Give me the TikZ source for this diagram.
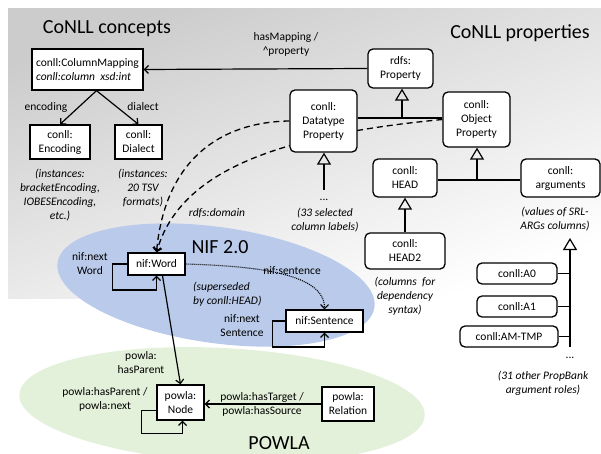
\documentclass[tikz,border=0pt]{standalone}
\usepackage{fontspec}
\setmainfont{Carlito}
\usetikzlibrary{arrows.meta}
\pgfdeclarelayer{back}
\pgfdeclarelayer{mid}
\pgfsetlayers{back,mid,main}
\definecolor{nifblue}{HTML}{B9CAEA}
\definecolor{powlagreen}{HTML}{E3F1DA}
\tikzstyle{cnode}=[draw, fill=white, line width=1.3pt, align=center, inner sep=0pt]
\tikzstyle{pnode}=[cnode, rounded corners=5pt]
\tikzstyle{lbl}=[align=center, inner sep=0pt]
\tikzstyle{note}=[lbl, font=\fontsize{11.5}{14}\selectfont\itshape]
\tikzstyle{title}=[anchor=base, inner sep=0pt, font=\fontsize{20}{24}\selectfont]
\tikzstyle{link}=[-{Straight Barb[length=4pt,width=8pt]}, line width=1.2pt]
\tikzstyle{isa}=[-{Triangle[open,length=12pt,width=14pt]}, line width=1.2pt]
\tikzstyle{domlink}=[link, dash pattern=on 6pt off 4pt, line width=1.3pt]
\tikzstyle{senlink}=[link, dash pattern=on 1pt off 1pt, line width=1.1pt]
\newcommand{\cnode}{\node[cnode]}
\newcommand{\pnode}{\node[pnode]}

\begin{document}
\begin{tikzpicture}[x=1pt, y=-1pt, every edge/.style={draw, line width=1.2pt}, font=\fontsize{11.5}{14}\selectfont]
\useasboundingbox (0,0) rectangle (601,454);
\begin{pgfonlayer}{back}
\shade[top color=black!20, bottom color=white, shading angle=20] (8,9) rectangle (601,298);
\fill[nifblue] (216,285) ellipse [x radius=160pt, y radius=58pt, rotate=-8];
\fill[powlagreen] (222,405) ellipse [x radius=203pt, y radius=57pt, rotate=-3];
\end{pgfonlayer}

\node[title] (tconc) at (107,34) {CoNLL concepts};
\node[title] (tprop) at (520,39) {CoNLL properties};
\node[title] (tnif) at (220,253) {NIF 2.0};
\node[title] (tpowla) at (279,449) {POWLA};

\cnode (map) at (87.5,69.5) [minimum width=111pt, minimum height=41pt, align=left] {conll:ColumnMapping\\\textit{conll:column\ \ xsd:int}};
\cnode (enc) at (60,142) [minimum width=60pt, minimum height=34pt] {conll:\\Encoding};
\cnode (dia) at (138.5,142) [minimum width=47pt, minimum height=34pt] {conll:\\Dialect};
\pnode (rprop) at (400.5,68.5) [minimum width=65pt, minimum height=39pt] {rdfs:\\Property};
\pnode (dprop) at (323.5,121) [minimum width=67pt, minimum height=62pt] {conll:\\Datatype\\Property};
\pnode (oprop) at (476.5,119.5) [minimum width=67pt, minimum height=55pt] {conll:\\Object\\Property};
\pnode (head) at (405,178) [minimum width=64pt, minimum height=38pt] {conll:\\HEAD};
\pnode (args) at (560.5,178) [minimum width=79pt, minimum height=38pt] {conll:\\arguments};
\pnode (head2) at (405,251) [minimum width=80pt, minimum height=36pt] {conll:\\HEAD2};
\pnode (a0) at (517,273.5) [minimum width=80pt, minimum height=21pt] {conll:A0};
\pnode (a1) at (517,306.5) [minimum width=80pt, minimum height=21pt] {conll:A1};
\pnode (amtmp) at (509,336.5) [minimum width=98pt, minimum height=21pt] {conll:AM-TMP};
\cnode (word) at (156.5,264) [minimum width=57pt, minimum height=22pt] {nif:Word};
\cnode (sent) at (324.5,321) [minimum width=77pt, minimum height=22pt] {nif:Sentence};
\cnode (pnode) at (180.5,402.5) [minimum width=47pt, minimum height=35pt] {powla:\\Node};
\cnode (rel) at (348,404) [minimum width=52pt, minimum height=34pt] {powla:\\Relation};

\coordinate (dj) at (402,118);
\coordinate (oj) at (477,180);
\coordinate (dots) at (324,190);
\coordinate (argtop) at (570,238);
\coordinate (argbot) at (570,347);

\node[lbl] (lenc) at (46,107) {encoding};
\node[lbl] (ldia) at (143,107) {dialect};
\node[lbl] (lmap) at (286,44) {hasMapping /\\\textasciicircum property};
\node[note] (nenc) at (60,195) {(instances:\\bracketEncoding,\\IOBESEncoding,\\etc.)};
\node[note] (ndia) at (143,188) {(instances:\\20 TSV\\formats)};
\node[note] (ldom) at (217,213) {rdfs:domain};
\node[lbl] (ddots) at (324,200) {...};
\node[note] (ndprop) at (325,220) {(33 selected\\column labels)};
\node[note] (nhead2) at (405,296) {(columns\ \ for\\dependency\\syntax)};
\node[note] (nargs) at (555,219) {(values of SRL-\\ARGs columns)};
\node[lbl] (adots) at (570,358) {...};
\node[note] (nprop) at (543,383) {(31 other PropBank\\argument roles)};
\node[lbl] (lword) at (90,264) {nif:next\\Word};
\node[lbl] (lsen) at (292,271) {nif:sentence};
\node[note, anchor=west, align=left] (nsup) at (193,294) {(superseded\\by conll:HEAD)};
\node[lbl] (lsent) at (242,326) {nif:next\\Sentence};
\node[lbl] (lpar) at (141,363) {powla:\\hasParent};
\node[lbl] (lnode) at (105,399) {powla:hasParent /\\powla:next};
\node[lbl] (lrel) at (262,404) {powla:hasTarget /\\powla:hasSource};

\path
(rprop.west) edge[link] (map.east)
([xshift=9pt]map.south) edge[link] (enc.north) edge[link] (dia.north)
(dprop.east |- dj) edge (oprop.west |- dj)
(dj) edge[isa] (rprop.south -| dj)
(dots) edge[isa] (dprop.south -| dots)
(head.east |- oj) edge (args.west |- oj)
(oj) edge[isa] (oprop.south -| oj)
(head2.north) edge[isa] (head.south)
(argbot) edge[isa] (argtop)
(a0.east) edge (a0.east -| argbot)
(a1.east) edge (a1.east -| argbot)
(amtmp.east) edge (amtmp.east -| argbot)
([xshift=6pt]word.south) edge[link] (pnode.north)
(rel.west) edge[link] (pnode.east |- rel.west)
;
\draw[link] (word.west) -- ++(-15,0) -- ++(0,26) -| (word.south);
\draw[link] (sent.west) -- ++(-13,0) -- ++(0,26) -| (sent.south);
\draw[link] ([yshift=-8pt]pnode.west) -- ++(-15,0) -- ++(0,23) -| ([xshift=2pt]pnode.south);
\draw[senlink] (word.east) .. controls (250,266) and (325,272) .. (sent.north);
\begin{pgfonlayer}{mid}
\draw[domlink] (dprop.west) .. controls (220,122) and (165,160) .. (word.north);
\draw[domlink] (oprop.west) .. controls (280,135) and (180,170) .. (word.north);
\end{pgfonlayer}
\end{tikzpicture}
\end{document}
